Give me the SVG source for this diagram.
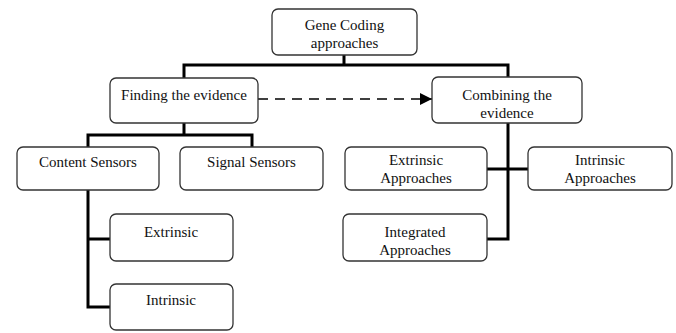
<svg xmlns="http://www.w3.org/2000/svg" width="676" height="333" viewBox="0 0 676 333">
<style>
.box{fill:#fff;stroke:#333;stroke-width:1.3}
.t{font-family:"Liberation Serif","Times New Roman",serif;font-size:15px;fill:#111;text-anchor:middle}
.c{fill:none;stroke:#000;stroke-width:3}
.d{fill:none;stroke:#000;stroke-width:1.6;stroke-dasharray:10 7}
</style>
<defs>
<marker id="arr" viewBox="0 0 12 12" refX="12" refY="6" markerWidth="12" markerHeight="12" markerUnits="userSpaceOnUse" orient="auto">
<path d="M0,0 L12,6 L0,12 Z" fill="#000"/>
</marker>
</defs>
<rect width="676" height="333" fill="#fff"/>
<g id="connectors">
<path class="c" d="M344,55 V65 M184,78 V65 H508 V77"/>
<path class="c" d="M184,123 V135 M88,148 V135 H252 V148"/>
<path class="c" d="M508,123 V239 H487 M487,169 H528"/>
<path class="c" d="M88,190 V307 H110 M88,239 H110"/>
<path class="d" d="M258,99 H432" marker-end="url(#arr)"/>
</g>
<g id="n-gene"><rect class="box" x="272" y="9" width="145" height="46" rx="6"/><text class="t" x="344.5" y="30">Gene Coding</text><text class="t" x="344.5" y="48">approaches</text></g>
<g id="n-finding"><rect class="box" x="110" y="78" width="148" height="45" rx="6"/><text class="t" x="184" y="100">Finding the evidence</text></g>
<g id="n-combining"><rect class="box" x="432" y="77" width="150" height="46" rx="6"/><text class="t" x="507" y="100">Combining the</text><text class="t" x="507" y="118">evidence</text></g>
<g id="n-content"><rect class="box" x="17" y="147" width="142" height="43" rx="6"/><text class="t" x="88" y="167">Content Sensors</text></g>
<g id="n-signal"><rect class="box" x="180" y="147" width="143" height="43" rx="6"/><text class="t" x="251.5" y="167">Signal Sensors</text></g>
<g id="n-extapp"><rect class="box" x="345" y="147" width="142" height="43" rx="6"/><text class="t" x="416" y="165">Extrinsic</text><text class="t" x="416" y="183">Approaches</text></g>
<g id="n-intapp"><rect class="box" x="528" y="147" width="144" height="43" rx="6"/><text class="t" x="600" y="165">Intrinsic</text><text class="t" x="600" y="183">Approaches</text></g>
<g id="n-integrated"><rect class="box" x="343" y="214" width="144" height="47" rx="6"/><text class="t" x="415" y="237">Integrated</text><text class="t" x="415" y="255">Approaches</text></g>
<g id="n-extrinsic"><rect class="box" x="110" y="214" width="123" height="47" rx="6"/><text class="t" x="171" y="237">Extrinsic</text></g>
<g id="n-intrinsic"><rect class="box" x="110" y="284" width="123" height="46" rx="6"/><text class="t" x="171" y="305">Intrinsic</text></g>
</svg>
